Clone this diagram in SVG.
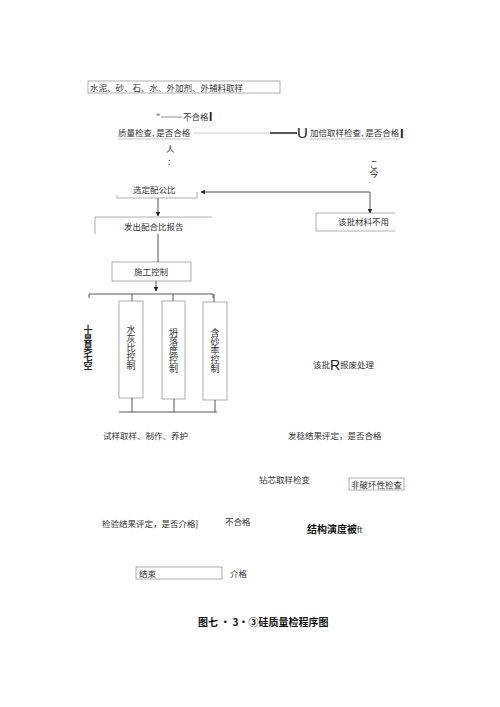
<svg xmlns="http://www.w3.org/2000/svg" width="500" height="707" viewBox="0 0 500 707">
<defs>
<style>
.t{font-family:"Noto Sans CJK SC","Liberation Serif",serif;font-size:8.5px;fill:#333}
.b{fill:none;stroke:#999;stroke-width:0.8}
.l{fill:none;stroke:#444;stroke-width:0.9}
.v{font-family:"Noto Sans CJK SC","Liberation Serif",serif;font-size:9px;fill:#333;writing-mode:tb}
</style>
<marker id="a" viewBox="0 0 10 10" refX="9" refY="5" markerWidth="5" markerHeight="5" orient="auto"><path d="M0,0L10,5L0,10z" fill="#222"/></marker>
</defs>
<rect width="500" height="707" fill="#fff"/>
<g id="n-sample"><rect class="b" x="88" y="81" width="192" height="12"/><text class="t" x="90" y="90.5">水泥、砂、石、水、外加剂、外捕料取样</text></g>
<g id="n-fail1"><text class="t" x="156" y="120">"</text><line x1="161" y1="117" x2="182" y2="117" stroke="#666" stroke-width="0.7"/><text class="t" x="183" y="120">不合格</text><text x="209" y="121" font-family="Liberation Sans,sans-serif" font-size="12" font-weight="bold" fill="#222">I</text></g>
<g id="n-check"><text class="t" x="118" y="136">质量检查, 是否合格</text><line x1="118" y1="139" x2="190" y2="139" stroke="#999" stroke-width="0.6"/></g>
<g id="n-double"><text x="297" y="138" font-family="Liberation Sans,sans-serif" font-size="15" fill="#222">U</text><text class="t" x="310" y="136">加倍取样检查, 是否合格</text><line x1="310" y1="139" x2="400" y2="139" stroke="#999" stroke-width="0.6"/><text x="400" y="138" font-family="Liberation Sans,sans-serif" font-size="13" font-weight="bold" fill="#222">I</text></g>
<g id="n-ren"><text class="t" x="166" y="152" font-size="6.5">人</text><text class="t" x="168" y="165" font-size="6">:</text></g>
<g id="n-right"><text class="v" x="374" y="160" font-size="7">こ今</text></g>
<g id="n-select"><text class="t" x="133" y="193">选定配公比</text></g>
<g id="n-reject"><path class="b" d="M395,213H316V231H395"/><text class="t" x="338" y="225">该批材料不用</text></g>
<g id="n-report"><path class="b" d="M212,217H95V234"/><text class="t" x="124" y="230">发出配合比报告</text></g>
<g id="n-const"><rect class="b" x="112" y="262" width="79" height="19"/><text class="t" x="134" y="275">施工控制</text></g>
<g id="n-wc"><rect class="b" x="119" y="301" width="24" height="97"/><text class="v" x="131" y="325">水灰比控制</text></g>
<g id="n-slump"><rect class="b" x="162" y="301" width="23" height="98"/><text class="v" x="173.5" y="328">坍落度控制</text></g>
<g id="n-sand"><rect class="b" x="203" y="302" width="24" height="98"/><text class="v" x="215" y="328">含砂率控制</text></g>
<g id="n-left"><text x="88" y="325" font-family="Noto Sans CJK SC,sans-serif" font-size="9" font-weight="bold" fill="#222" writing-mode="tb">十昙昊乇空</text></g>
<g id="n-scrap"><text class="t" x="313" y="368">该批</text><text x="330" y="370" font-family="Liberation Sans,sans-serif" font-size="14" fill="#222">R</text><text class="t" x="340" y="368">报废处理</text></g>
<g id="n-specimen"><text class="t" x="103" y="439">试样取样、制作、养护</text></g>
<g id="n-eval1"><text class="t" x="288" y="439">发稔结果评定，是否合格</text></g>
<g id="n-core"><text class="t" x="259" y="483">钻芯取样检变</text></g>
<g id="n-ndt"><rect class="b" x="349" y="478" width="55" height="12"/><text class="t" x="351" y="487.5">非破坏性检查</text></g>
<g id="n-eval2"><text class="t" x="102" y="527">检验结果评定，是否介格}</text></g>
<g id="n-fail2"><text class="t" x="225" y="525">不合格</text></g>
<g id="n-struct"><text x="307" y="533" font-family="Noto Sans CJK SC,sans-serif" font-size="10" font-weight="bold" fill="#111">结构演度被<tspan font-weight="normal" font-size="8">ft</tspan></text></g>
<g id="n-end"><rect class="b" x="136" y="567" width="86" height="12"/><text class="t" x="139" y="576.5">结束</text></g>
<g id="n-pass"><text class="t" x="230" y="577">介格</text></g>
<g id="n-title"><text x="198" y="626" font-family="Noto Sans CJK SC,sans-serif" font-size="10" font-weight="bold" fill="#111">图七 · 3•③硅质量检程序图</text></g>
<g id="connectors">
<line x1="193" y1="133" x2="270" y2="133" stroke="#aaa" stroke-width="0.6"/>
<line x1="270" y1="133" x2="297" y2="133" stroke="#222" stroke-width="1.5"/>
<path class="b" d="M117,195V198H197V192"/>
<path class="l" d="M370,192H201" marker-end="url(#a)"/>
<path class="l" d="M370,192V213" marker-end="url(#a)"/>
<path class="l" d="M158,198V216" marker-end="url(#a)"/>
<path class="l" d="M158,234V262"/>
<path class="l" d="M156,281V291" marker-end="url(#a)"/>
<path class="l" d="M89,298V294H213V298"/>
<path class="l" d="M132,294V301M173,294V301M214,294V302"/>
<path class="l" d="M132,398V412M174,399V412M215,400V412M119,412H217"/>
</g>
</svg>
